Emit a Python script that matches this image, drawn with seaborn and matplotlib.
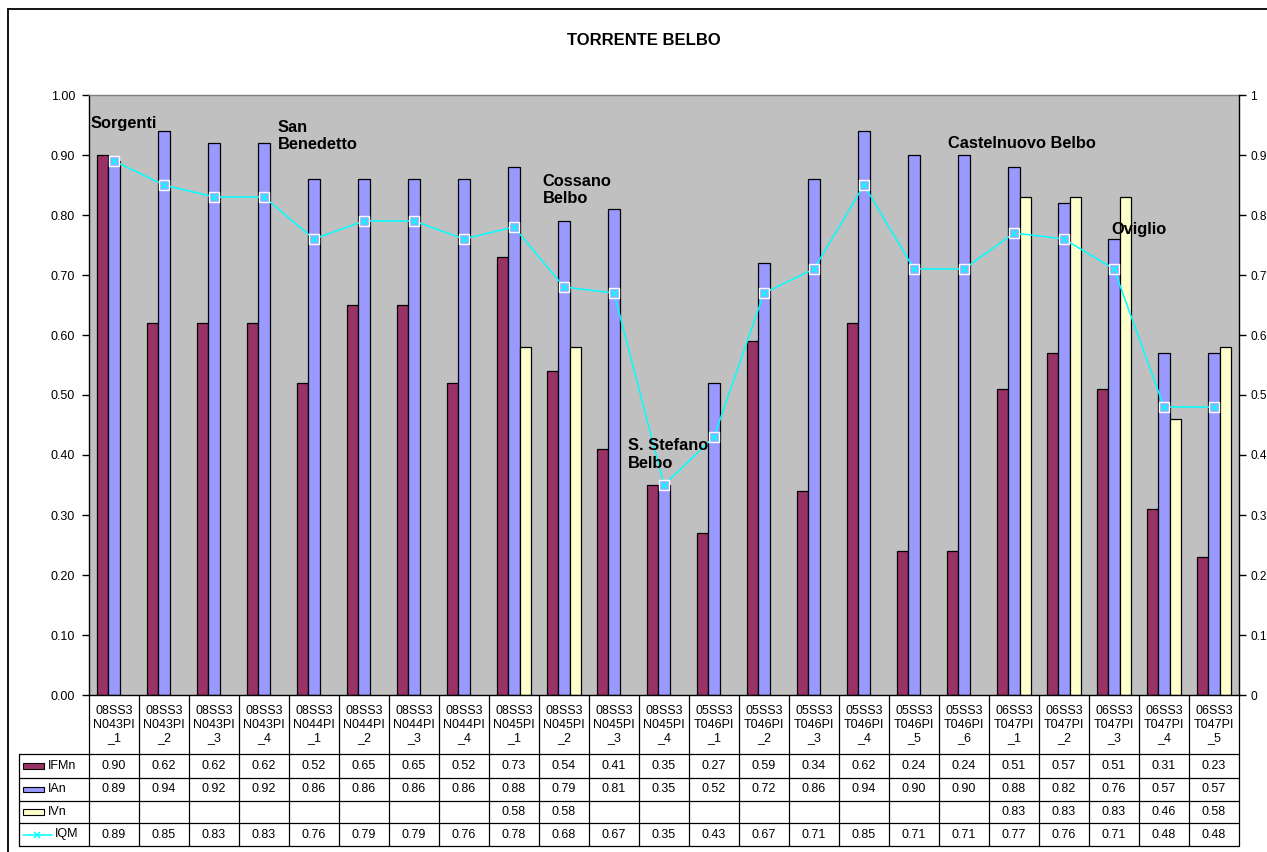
import numpy as np
import pandas as pd
import matplotlib
matplotlib.use("Agg")
import matplotlib.pyplot as plt
from matplotlib.lines import Line2D
from matplotlib.patches import Rectangle
import seaborn as sns

# ---- data -------------------------------------------------------------
stations = [
    "08SS3N043PI_1", "08SS3N043PI_2", "08SS3N043PI_3", "08SS3N043PI_4",
    "08SS3N044PI_1", "08SS3N044PI_2", "08SS3N044PI_3", "08SS3N044PI_4",
    "08SS3N045PI_1", "08SS3N045PI_2", "08SS3N045PI_3", "08SS3N045PI_4",
    "05SS3T046PI_1", "05SS3T046PI_2", "05SS3T046PI_3", "05SS3T046PI_4",
    "05SS3T046PI_5", "05SS3T046PI_6",
    "06SS3T047PI_1", "06SS3T047PI_2", "06SS3T047PI_3", "06SS3T047PI_4",
    "06SS3T047PI_5",
]
nan = np.nan
ifmn = [0.90, 0.62, 0.62, 0.62, 0.52, 0.65, 0.65, 0.52, 0.73, 0.54, 0.41, 0.35,
        0.27, 0.59, 0.34, 0.62, 0.24, 0.24, 0.51, 0.57, 0.51, 0.31, 0.23]
ian = [0.89, 0.94, 0.92, 0.92, 0.86, 0.86, 0.86, 0.86, 0.88, 0.79, 0.81, 0.35,
       0.52, 0.72, 0.86, 0.94, 0.90, 0.90, 0.88, 0.82, 0.76, 0.57, 0.57]
ivn = [nan, nan, nan, nan, nan, nan, nan, nan, 0.58, 0.58, nan, nan,
       nan, nan, nan, nan, nan, nan, 0.83, 0.83, 0.83, 0.46, 0.58]
iqm = [0.89, 0.85, 0.83, 0.83, 0.76, 0.79, 0.79, 0.76, 0.78, 0.68, 0.67, 0.35,
       0.43, 0.67, 0.71, 0.85, 0.71, 0.71, 0.77, 0.76, 0.71, 0.48, 0.48]

bar_series = ["IFMn", "IAn", "IVn"]
bar_colors = {"IFMn": "#993366", "IAn": "#9999FF", "IVn": "#FFFFCC"}
line_color = "#00FFFF"

places = ["Sorgenti", "San\nBenedetto", "Cossano\nBelbo", "S. Stefano\nBelbo",
          "Castelnuovo Belbo", "Oviglio"]
place_x = [-0.46, 3.28, 8.57, 10.27, 16.68, 19.95]
place_y = [0.945, 0.943, 0.853, 0.412, 0.912, 0.768]   # baseline of first line

title = "TORRENTE BELBO"

# ---- style ------------------------------------------------------------
sns.set_theme(style="white")
plt.rcParams["font.family"] = ["Liberation Sans", "DejaVu Sans"]
plt.rcParams["text.color"] = "black"
plt.rcParams["axes.labelcolor"] = "black"

W, H = 1267, 852
fig = plt.figure(figsize=(W / 100, H / 100), dpi=100)
fig.patch.set_facecolor("white")

# plot area in pixels: x 89..1239, y 95..695
ax = fig.add_axes([89 / W, 1 - 695 / H, (1239 - 89) / W, (695 - 95) / H])
ax.set_facecolor("#C0C0C0")

n = len(stations)
df = pd.DataFrame({
    "station": stations * 3,
    "series": sum([[s] * n for s in bar_series], []),
    "value": ifmn + ian + ivn,
}).dropna()

sns.barplot(data=df, x="station", y="value", hue="series", order=stations,
            hue_order=bar_series, palette=bar_colors, width=0.69, gap=0,
            saturation=1, edgecolor="black", linewidth=0.9, errorbar=None,
            legend=False, ax=ax)

xpos = np.arange(n)
sns.lineplot(x=xpos, y=iqm, sort=False, color=line_color, linewidth=1.1,
             marker="s", markersize=7, markerfacecolor="#99A8FF",
             markeredgecolor="white", markeredgewidth=1.0, ax=ax, zorder=5)
sns.scatterplot(x=xpos, y=iqm, marker="x", color=line_color, s=20,
                linewidth=1.2, ax=ax, zorder=6)

ax.set_xlim(-0.5, n - 0.5)
ax.set_ylim(0, 1)
ax.set_xlabel("")
ax.set_ylabel("")
ax.set_xticks([])
yt = np.round(np.arange(0, 1.01, 0.1), 1)
ax.set_yticks(yt)
ax.set_yticklabels([f"{v:.2f}" for v in yt], fontsize=9)
ax.tick_params(axis="y", direction="out", length=5, width=1, color="black",
               pad=5, left=True, labelcolor="black")
for side in ["left", "bottom"]:
    ax.spines[side].set_color("black")
    ax.spines[side].set_linewidth(1)
ax.spines["top"].set_color("#808080")
ax.spines["top"].set_linewidth(1)
ax.spines["right"].set_visible(False)

ax2 = ax.twinx()
ax2.set_ylim(0, 1)
ax2.set_yticks(yt)
ax2.set_yticklabels([f"{v:g}" for v in yt], fontsize=8.6)
ax2.tick_params(axis="y", direction="out", length=5, width=1, color="black",
                pad=3, right=True, labelcolor="black")
ax2.grid(False)
for side in ["left", "top", "bottom"]:
    ax2.spines[side].set_visible(False)
ax2.spines["right"].set_color("black")
ax2.spines["right"].set_linewidth(1)

# place names inside the plot area
line_pitch = 20 / 600.0
for name, px, py in zip(places, place_x, place_y):
    nlines = name.count("\n") + 1
    ax.text(px, py - (nlines - 1) * line_pitch, name, fontsize=11.8,
            fontweight="bold", ha="left", va="baseline", linespacing=1.22,
            color="black", zorder=7)

# ---- data table below the plot ----------------------------------------
tr = ax.get_xaxis_transform()
ppx = (1239 - 89) / n          # pixels per category
def yax(p):                     # pixel row -> axes fraction
    return (695 - p) / 600.0
def xdat(p):                    # pixel column -> data x
    return -0.5 + (p - 89) / ppx

row_edges = [754, 778, 801, 823, 846]
left_x = xdat(19)
tbl = dict(color="black", linewidth=0.9, transform=tr, clip_on=False)

for k in range(n + 1):
    ax.add_line(Line2D([k - 0.5, k - 0.5], [0, yax(row_edges[-1])], **tbl))
ax.add_line(Line2D([left_x, left_x], [yax(row_edges[0]), yax(row_edges[-1])], **tbl))
for r in row_edges:
    ax.add_line(Line2D([left_x, n - 0.5], [yax(r), yax(r)], **tbl))

for i, s in enumerate(stations):
    head, tail = s.split("_")
    lab = f"{head[:5]}\n{head[5:]}\n_{tail}"
    ax.text(i, yax(724.5), lab, transform=tr, ha="center", va="center",
            fontsize=9, linespacing=1.12, clip_on=False)

row_names = ["IFMn", "IAn", "IVn", "IQM"]
row_values = [ifmn, ian, ivn, iqm]
for r, (name, vals) in enumerate(zip(row_names, row_values)):
    yc = yax((row_edges[r] + row_edges[r + 1]) / 2)
    for i, v in enumerate(vals):
        if not np.isnan(v):
            ax.text(i, yc, f"{v:.2f}", transform=tr, ha="center", va="center",
                    fontsize=9, clip_on=False)
    if name in bar_colors:
        ax.add_patch(Rectangle((xdat(23), yc - 0.0045), xdat(44) - xdat(23), 0.009,
                               transform=tr, facecolor=bar_colors[name],
                               edgecolor="black", linewidth=0.8, clip_on=False))
        ax.text(xdat(48), yc, name, transform=tr, ha="left", va="center",
                fontsize=9, clip_on=False)
    else:
        ax.add_line(Line2D([xdat(23), xdat(52)], [yc, yc], color=line_color,
                           linewidth=1.1, transform=tr, clip_on=False))
        ax.add_line(Line2D([xdat(37.5)], [yc], marker="x", color=line_color,
                           markersize=4.5, markeredgewidth=1.1, transform=tr,
                           clip_on=False))
        ax.text(xdat(55), yc, name, transform=tr, ha="left", va="center",
                fontsize=9, clip_on=False)

# ---- title and chart frame --------------------------------------------
fig.text(644 / W, 1 - 40.5 / H, title, ha="center", va="center", fontsize=12,
         fontweight="bold")
fx, fy = 7.5 / W, 1 - 9 / H
fig.add_artist(Line2D([fx, fx], [0, fy], color="black", linewidth=1.3,
                      transform=fig.transFigure))
fig.add_artist(Line2D([fx, 1], [fy, fy], color="black", linewidth=1.3,
                      transform=fig.transFigure))

fig.savefig("out.png", dpi=100)
